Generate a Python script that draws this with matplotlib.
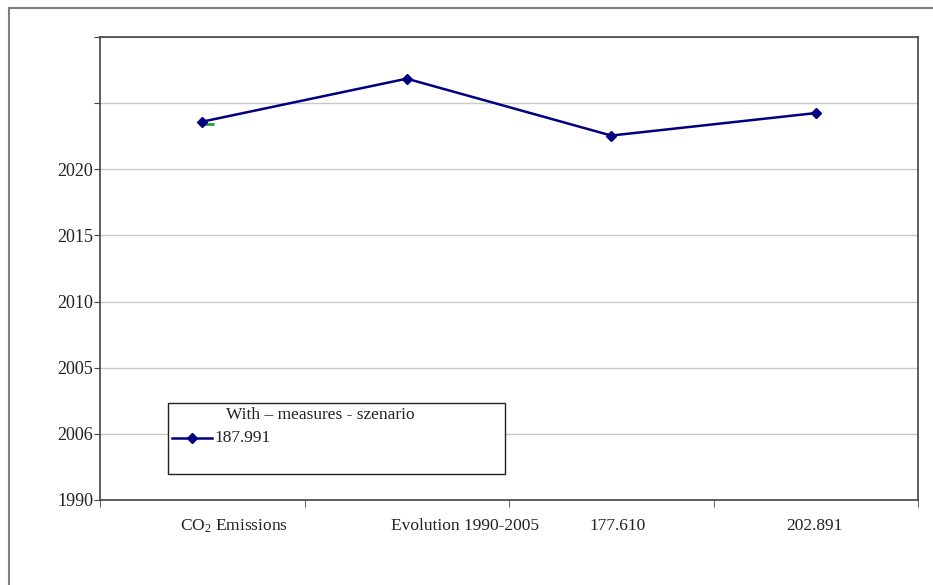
import numpy as np
import matplotlib
matplotlib.use("Agg")
import matplotlib.pyplot as plt
import matplotlib.transforms as mtransforms
from matplotlib.patches import Rectangle
from matplotlib.lines import Line2D

plt.rcParams["font.family"] = ["Liberation Serif", "DejaVu Serif"]
plt.rcParams["mathtext.fontset"] = "custom"
plt.rcParams["mathtext.rm"] = "Liberation Serif"
plt.rcParams["mathtext.default"] = "regular"

# Data (values in axis-row units)
categories = ["CO$_2$ Emissions", "Evolution 1990-2005", "177.610", "202.891"]
series_values = [5.72, 6.37, 5.51, 5.85]
green_values = [5.68]
y_tick_labels = ["1990", "2006", "2005", "2010", "2015", "2020", "", ""]
legend_title = "With \u2013 measures - szenario"
legend_label = "187.991"

# pixel offsets of the category labels (they are not centred in the reference)
label_shift = [32, 58, 6, -1]

fig = plt.figure(figsize=(9.33, 5.85), dpi=100)
ax = fig.add_axes([100 / 933, 85 / 585, 818 / 933, 463 / 585])

x = np.arange(len(categories))
ax.plot(x, series_values, color="#000080", lw=1.8, marker="D", markersize=5, zorder=3)
ax.plot(x[:len(green_values)] + 0.03, green_values, color="#2e9a2e", marker="_",
        markersize=9, markeredgewidth=2, ls="none", zorder=2)

ax.set_xlim(-0.5, len(categories) - 0.5)
ax.set_ylim(0, len(y_tick_labels) - 1)
ax.set_yticks(np.arange(len(y_tick_labels)))
ax.set_yticklabels(y_tick_labels, fontsize=13, color="#222222")
ax.yaxis.grid(True, color="#c8c8c8", lw=1)
ax.set_axisbelow(True)

ax.set_xticks(x)
ax.set_xticklabels(categories, fontsize=12.5, color="#222222")
ax.set_xticks(np.arange(-0.5, len(categories)), minor=True)
ax.tick_params(axis="x", which="major", length=0, pad=13)
ax.tick_params(axis="x", which="minor", length=5, color="#444444", direction="out")
ax.tick_params(axis="y", length=4, color="#444444", direction="out", pad=1)
for lbl, dx in zip(ax.get_xticklabels(), label_shift):
    lbl.set_transform(lbl.get_transform() + mtransforms.ScaledTranslation(dx / 100, 0, fig.dpi_scale_trans))

for s in ax.spines.values():
    s.set_color("#444444")
    s.set_linewidth(1.2)

# legend box
fig.add_artist(Rectangle((168 / 933, 1 - 474 / 585), 337 / 933, 71 / 585,
                         transform=fig.transFigure, fill=True, facecolor="white",
                         edgecolor="#222222", lw=1, zorder=5))
fig.text(320 / 933, 1 - 415 / 585, legend_title, ha="center", va="center", fontsize=12.5,
         color="#222222", zorder=6)
fig.add_artist(Line2D([172 / 933, 212 / 933], [1 - 438 / 585, 1 - 438 / 585],
                      transform=fig.transFigure, color="#000080", lw=1.8, zorder=6))
fig.add_artist(Line2D([192 / 933], [1 - 438 / 585], transform=fig.transFigure,
                      color="#000080", marker="D", markersize=5, zorder=7))
fig.text(214 / 933, 1 - 438 / 585, legend_label, ha="left", va="center", fontsize=12.5,
         color="#222222", zorder=6)

# outer chart frame
fig.add_artist(Rectangle((9 / 933, -0.05), 1.0, 1 - 8 / 585 + 0.05,
                         transform=fig.transFigure, fill=False, edgecolor="#808080", lw=1.5))

fig.savefig("out.png", dpi=100)
